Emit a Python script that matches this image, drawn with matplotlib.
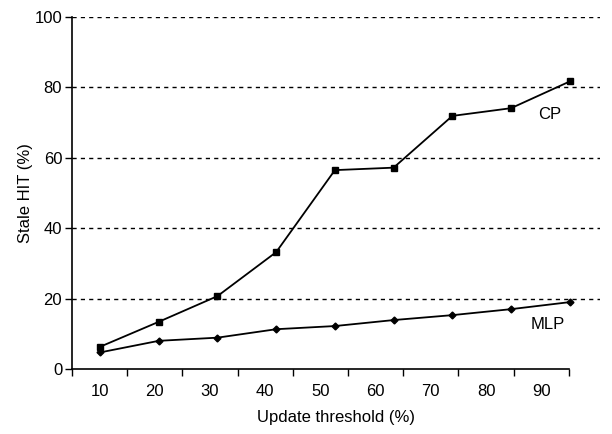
import numpy as np
import matplotlib
matplotlib.use("Agg")
import matplotlib.pyplot as plt

plt.rcParams['font.family'] = ['Liberation Sans', 'DejaVu Sans']

thresholds = [10, 20, 30, 40, 50, 60, 70, 80, 90]
cp = [6.3, 13.4, 20.7, 33.2, 56.5, 57.2, 71.9, 74.1, 81.7]
mlp = [4.7, 8.0, 8.9, 11.3, 12.2, 13.9, 15.3, 17.0, 19.0]
tick_labels = ['10', '20', '30', '40', '50', '60', '70', '80', '90']

fig = plt.figure(figsize=(6.12, 4.34), dpi=100)
ax = fig.add_axes([0.1176, 0.1498, 0.8624, 0.811])

ax.plot(thresholds, cp, color='black', lw=1.3, marker='s', ms=4, zorder=3)
ax.plot(thresholds, mlp, color='black', lw=1.3, marker='D', ms=3.5, zorder=3)

ax.text(86.6, 72.4, 'CP', fontsize=12, ha='center', va='center')
ax.text(86.3, 12.5, 'MLP', fontsize=12, ha='center', va='center')

# x axis: tick marks at category boundaries, labels centred between them
x0 = 5.23
step = 9.4
bounds = x0 + step * np.arange(len(thresholds) + 1)
ax.set_xlim(x0, 95.1)
ax.set_xticks(bounds, minor=True)
ax.set_xticks(bounds[:-1] + step / 2)
ax.set_xticklabels(tick_labels)
ax.tick_params(axis='x', which='major', length=0, pad=11, labelsize=12)
ax.tick_params(axis='x', which='minor', length=5, width=1, direction='out')
ax.spines['bottom'].set_bounds(x0, bounds[-1])

ax.set_ylim(0, 100)
ax.set_yticks([0, 20, 40, 60, 80, 100])
ax.tick_params(axis='y', length=5, width=1, labelsize=12, pad=2)
for y in [20, 40, 60, 80, 100]:
    ax.axhline(y, color='black', lw=1, ls=(0, (3, 3)), zorder=1)

for s in ['top', 'right']:
    ax.spines[s].set_visible(False)
ax.spines['left'].set_linewidth(1.2)
ax.spines['bottom'].set_linewidth(1.2)

ax.set_xlabel('Update threshold (%)', fontsize=12, labelpad=8)
ax.set_ylabel('Stale HIT (%)', fontsize=12, labelpad=1)

fig.savefig('out.png', dpi=100)
